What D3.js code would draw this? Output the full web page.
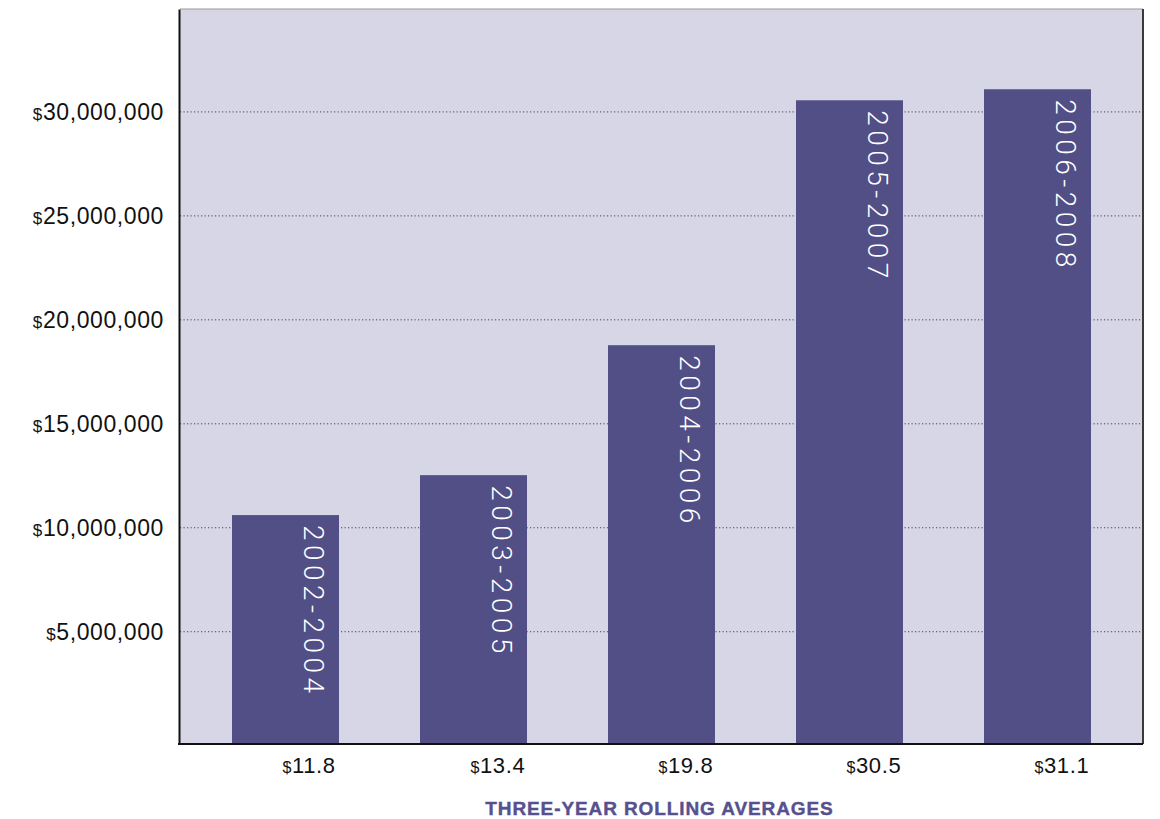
<!DOCTYPE html>
<html>
<head>
<meta charset="utf-8">
<script src="https://cdn.jsdelivr.net/npm/d3@7"></script>
<style>
  html, body { margin: 0; padding: 0; background: #ffffff; }
  svg { display: block; }
</style>
</head>
<body>
<svg id="chart" width="1160" height="819"></svg>
<script>
// ---- data ----
const periods = ["2002-2004", "2003-2005", "2004-2006", "2005-2007", "2006-2008"];
const values = [10610000, 12530000, 18780000, 30560000, 31090000];
const axisLabels = ["$11.8", "$13.4", "$19.8", "$30.5", "$31.1"];
const yTicks = [5000000, 10000000, 15000000, 20000000, 25000000, 30000000];
const xTitle = "THREE-YEAR ROLLING AVERAGES";

// ---- layout ----
const pLeft = 180, pRight = 1143, pTop = 9, pBottom = 744;
const svg = d3.select("#chart");

const x = d3.scaleBand().domain(periods).range([179, 1144])
  .paddingInner(0.431).paddingOuter(0.282);
const y = d3.scaleLinear().domain([-400000, 34950000]).range([pBottom, pTop]);

// plot background
svg.append("rect").attr("x", pLeft).attr("y", pTop)
  .attr("width", pRight - pLeft).attr("height", pBottom - pTop)
  .attr("fill", "#d7d6e7");

// gridlines
svg.append("g").selectAll("line").data(yTicks).join("line")
  .attr("x1", pLeft).attr("x2", pRight)
  .attr("y1", d => y(d)).attr("y2", d => y(d))
  .attr("stroke", "#444").attr("stroke-width", 1)
  .attr("stroke-dasharray", "1.2,2.3");

// bars
svg.append("g").selectAll("rect").data(values).join("rect")
  .attr("x", (d, i) => x(periods[i]))
  .attr("width", x.bandwidth())
  .attr("y", d => y(d))
  .attr("height", d => pBottom - y(d))
  .attr("fill", "#524e86");

// bar labels (rotated)
svg.append("g").selectAll("text").data(values).join("text")
  .attr("transform", (d, i) => {
    const cx = x(periods[i]) + x.bandwidth() / 2 + 18.5;
    const ty = y(d) + 10;
    return `translate(${cx},${ty}) rotate(90)`;
  })
  .attr("text-anchor", "start")
  .attr("font-family", "Roboto, 'Liberation Sans', sans-serif")
  .attr("font-weight", 300)
  .attr("font-size", 28)
  .attr("fill", "#ffffff")
  .attr("textLength", 168)
  .attr("lengthAdjust", "spacing")
  .text((d, i) => periods[i]);

// frame
svg.append("line").attr("x1", pLeft).attr("x2", pRight).attr("y1", pTop).attr("y2", pTop)
  .attr("stroke", "#9a9a9a").attr("stroke-width", 1.2);
svg.append("line").attr("x1", pRight).attr("x2", pRight).attr("y1", pTop).attr("y2", pBottom)
  .attr("stroke", "#3a3a3a").attr("stroke-width", 2);

// y axis
const yAxis = d3.axisLeft(y).tickValues(yTicks).tickSize(0).tickPadding(15)
  .tickFormat(d3.format(",.0f"));
const yg = svg.append("g").attr("transform", `translate(${pLeft - 1},0)`).call(yAxis);
yg.select(".domain").attr("stroke", "#111").attr("stroke-width", 2);
yg.selectAll(".tick text")
  .attr("font-family", "'Liberation Sans', Arial, sans-serif")
  .attr("font-size", 23).attr("fill", "#111")
  .attr("letter-spacing", 0.6)
  .each(function(d) {
    const t = d3.select(this);
    const s = t.text();
    t.text(null);
    t.append("tspan").attr("font-size", 17).text("$");
    t.append("tspan").text(s);
  });

// x axis
const xAxis = d3.axisBottom(x).tickSize(0).tickPadding(0).tickFormat((d, i) => axisLabels[i]);
const xg = svg.append("g").attr("transform", `translate(0,${pBottom})`).call(xAxis);
xg.select(".domain").attr("stroke", "#111").attr("stroke-width", 2)
  .attr("d", `M${pLeft - 2},0H${pRight}`);
xg.selectAll(".tick text")
  .attr("font-family", "'Liberation Sans', Arial, sans-serif")
  .attr("font-size", 22).attr("fill", "#111")
  .attr("letter-spacing", 0.6)
  .attr("text-anchor", "start")
  .attr("x", -3)
  .attr("dy", 0).attr("y", 29)
  .each(function(d, i) {
    const t = d3.select(this);
    const s = axisLabels[i].slice(1);
    t.text(null);
    t.append("tspan").attr("font-size", 16).text("$");
    t.append("tspan").text(s);
  });

// x title
svg.append("text")
  .attr("x", (pLeft + pRight) / 2 - 2).attr("y", 815)
  .attr("text-anchor", "middle")
  .attr("font-family", "'Liberation Sans', Arial, sans-serif")
  .attr("font-weight", 700).attr("font-size", 19)
  .attr("letter-spacing", 0.9)
  .attr("fill", "#56518e")
  .attr("stroke", "#56518e").attr("stroke-width", 0.4)
  .text(xTitle);
</script>
</body>
</html>
